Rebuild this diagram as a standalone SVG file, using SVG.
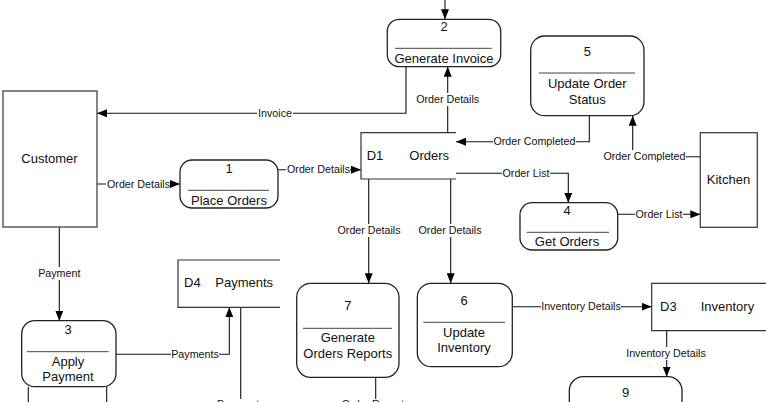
<svg xmlns="http://www.w3.org/2000/svg" width="766" height="402" viewBox="0 0 766 402">
<defs>
<marker id="ah" viewBox="0 0 10 8" refX="10" refY="4" markerWidth="10" markerHeight="8" markerUnits="userSpaceOnUse" orient="auto">
<path d="M0,0 L10,4 L0,8 z" fill="#000"/>
</marker>
<style>
.ent{fill:#fff;stroke:#444;stroke-width:1.3}
.proc{fill:#fff;stroke:#222;stroke-width:1.3}
.div{stroke:#444;stroke-width:1}
.store{fill:none;stroke:#333;stroke-width:1.2}
.c{fill:none;stroke:#111;stroke-width:1.1}
.ca{fill:none;stroke:#111;stroke-width:1.1;marker-end:url(#ah)}
.t{font-family:"Liberation Sans",Arial,sans-serif;font-size:13px;fill:#111;text-anchor:middle}
.ts{font-family:"Liberation Sans",Arial,sans-serif;font-size:13px;fill:#111}
.l{font-family:"Liberation Sans",Arial,sans-serif;font-size:10.7px;fill:#111;text-anchor:middle}
.bg{fill:#fff}
</style>
</defs>
<rect width="766" height="402" fill="#fff"/>

<g id="connectors">
<path class="ca" d="M445,0 V19.3"/>
<path class="ca" d="M406,66.7 V113.3 H97"/>
<path class="ca" d="M97,184 H180"/>
<path class="ca" d="M278,169.7 H361"/>
<path class="ca" d="M447.7,132.7 V66.7"/>
<path class="ca" d="M589.3,115.7 V141.7 H456"/>
<path class="ca" d="M700.3,156.7 H632.7 V115.7"/>
<path class="ca" d="M456,173.3 H568.3 V202.7"/>
<path class="ca" d="M617.7,214.3 H700.3"/>
<path class="ca" d="M368.7,179 V283.3"/>
<path class="ca" d="M450.7,179 V283.3"/>
<path class="ca" d="M59.3,227 V320.7"/>
<path class="ca" d="M116,354.3 H229.3 V307.3"/>
<path class="c" d="M240.7,307.3 V402"/>
<path class="c" d="M375.7,377.3 V402"/>
<path class="ca" d="M512.3,306.7 H651.7"/>
<path class="ca" d="M666.7,330.7 V376.7"/>
<path class="c" d="M28.3,386.7 V402 M106.7,386.7 V402"/>

<rect class="bg" x="257" y="107" width="36" height="13"/>
<text class="l" x="275" y="117">Invoice</text>
<rect class="bg" x="106" y="178" width="64" height="13"/>
<text class="l" x="138.5" y="187.7">Order Details</text>
<rect class="bg" x="286" y="163" width="64" height="13"/>
<text class="l" x="318.5" y="173.4">Order Details</text>
<rect class="bg" x="415" y="93" width="65" height="13"/>
<text class="l" x="447.7" y="102.7">Order Details</text>
<rect class="bg" x="493" y="135" width="83" height="13"/>
<text class="l" x="534.5" y="145.4">Order Completed</text>
<rect class="bg" x="603" y="150" width="83" height="13"/>
<text class="l" x="644.5" y="160.4">Order Completed</text>
<rect class="bg" x="502" y="167" width="48" height="13"/>
<text class="l" x="526" y="177">Order List</text>
<rect class="bg" x="635" y="208" width="48" height="13"/>
<text class="l" x="659" y="218">Order List</text>
<rect class="bg" x="337" y="224" width="64" height="13"/>
<text class="l" x="369" y="234.4">Order Details</text>
<rect class="bg" x="418" y="224" width="64" height="13"/>
<text class="l" x="450" y="234.4">Order Details</text>
<rect class="bg" x="37" y="267" width="45" height="13"/>
<text class="l" x="59.3" y="277">Payment</text>
<rect class="bg" x="171" y="348" width="48" height="13"/>
<text class="l" x="195" y="358">Payments</text>
<rect class="bg" x="541" y="300" width="80" height="13"/>
<text class="l" x="581" y="310.4">Inventory Details</text>
<rect class="bg" x="626" y="347" width="80" height="13"/>
<text class="l" x="666" y="357">Inventory Details</text>
<rect class="bg" x="216" y="399" width="49" height="10"/>
<text class="l" x="240.7" y="408.3">Payments</text>
<rect class="bg" x="341" y="399" width="70" height="10"/>
<text class="l" x="375.7" y="408.3">Order Reports</text>
</g>

<g id="customer">
<rect class="ent" x="3" y="91" width="94" height="136"/>
<text class="t" x="49.5" y="163">Customer</text>
</g>

<g id="kitchen">
<rect class="ent" x="700.3" y="132.7" width="57" height="94.6"/>
<text class="t" x="728.5" y="183.6">Kitchen</text>
</g>

<g id="p1">
<rect class="proc" x="180" y="160" width="98" height="48" rx="12"/>
<text class="t" x="229" y="172.6">1</text>
<line class="div" x1="188" y1="190.3" x2="269" y2="190.3"/>
<text class="t" x="229" y="204.6">Place Orders</text>
</g>

<g id="p2">
<rect class="proc" x="387.3" y="19.3" width="113.4" height="47.4" rx="12"/>
<text class="t" x="444" y="31.3">2</text>
<line class="div" x1="395" y1="48.3" x2="491.7" y2="48.3"/>
<text class="t" x="444" y="62.6">Generate Invoice</text>
</g>

<g id="p5">
<rect class="proc" x="530.7" y="36" width="113.3" height="79.7" rx="14"/>
<text class="t" x="587.3" y="56.3">5</text>
<line class="div" x1="539" y1="73" x2="635" y2="73"/>
<text class="t" x="587.3" y="87.9">Update Order</text>
<text class="t" x="587.3" y="103.9">Status</text>
</g>

<g id="p4">
<rect class="proc" x="520" y="202.7" width="97.7" height="47.3" rx="12"/>
<text class="t" x="567" y="214.6">4</text>
<line class="div" x1="526.7" y1="232.3" x2="609" y2="232.3"/>
<text class="t" x="567" y="246.3">Get Orders</text>
</g>

<g id="p3">
<rect class="proc" x="21.7" y="320.7" width="94.3" height="66" rx="13"/>
<text class="t" x="68" y="333.9">3</text>
<line class="div" x1="27" y1="351.7" x2="108.7" y2="351.7"/>
<text class="t" x="68" y="366.3">Apply</text>
<text class="t" x="68" y="381.3">Payment</text>
</g>

<g id="p7">
<rect class="proc" x="296.7" y="283.3" width="102.3" height="94" rx="14"/>
<text class="t" x="347.8" y="310.3">7</text>
<line class="div" x1="303" y1="328.3" x2="392" y2="328.3"/>
<text class="t" x="347.8" y="342.3">Generate</text>
<text class="t" x="347.8" y="357.9">Orders Reports</text>
</g>

<g id="p6">
<rect class="proc" x="417.3" y="283.3" width="95" height="83.4" rx="14"/>
<text class="t" x="464" y="305.3">6</text>
<line class="div" x1="423.3" y1="322.3" x2="505" y2="322.3"/>
<text class="t" x="464" y="336.9">Update</text>
<text class="t" x="464" y="352.3">Inventory</text>
</g>

<g id="p9">
<rect class="proc" x="569.3" y="376.7" width="112.7" height="60" rx="14"/>
<text class="t" x="625.7" y="396.9">9</text>
</g>

<g id="d1">
<path class="store" d="M456,132.7 H361 V179 H456"/>
<text class="ts" x="366.7" y="159.6">D1</text>
<text class="ts" x="409.3" y="159.6">Orders</text>
</g>

<g id="d4">
<path class="store" d="M280,260 H178 V307.3 H280"/>
<text class="ts" x="184" y="286.9">D4</text>
<text class="ts" x="215.3" y="286.9">Payments</text>
</g>

<g id="d3">
<path class="store" d="M766,283.3 H651.7 V330.7 H766"/>
<text class="ts" x="660" y="311.3">D3</text>
<text class="ts" x="700.7" y="311.3">Inventory</text>
</g>
</svg>
